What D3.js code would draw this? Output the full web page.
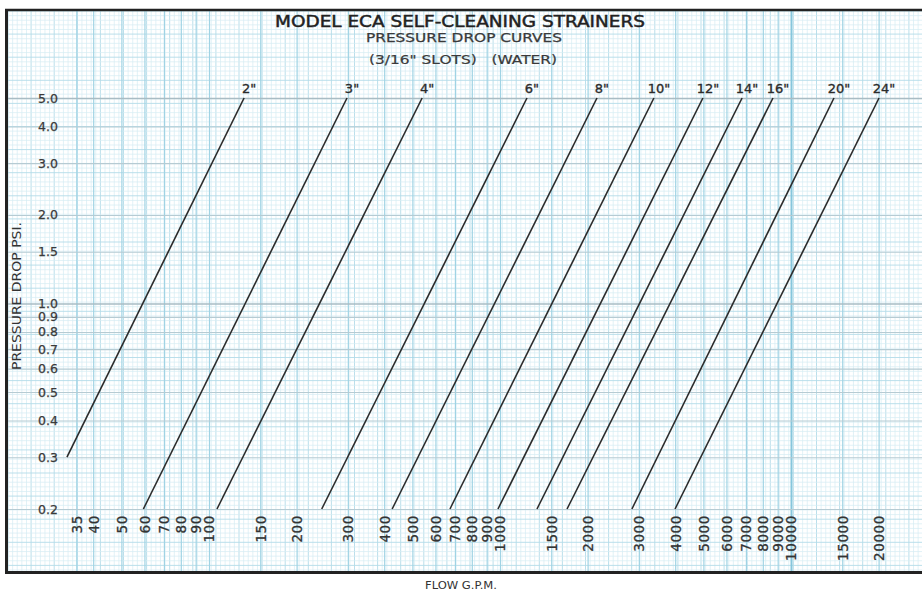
<!DOCTYPE html>
<html><head><meta charset="utf-8">
<script src="https://cdn.jsdelivr.net/npm/d3@7"></script>
<style>body{margin:0;background:#fff}svg{display:block}text{white-space:pre}</style>
</head><body>
<svg id="c" width="922" height="591"></svg>
<script>
// ---- data ----
const sizes = ['2"','3"','4"','6"','8"','10"','12"','14"','16"','20"','24"'];
const flowAtTop = [132, 298, 540, 1238, 2154, 3380, 4980, 6790, 8670, 14050, 20070]; // GPM at 5.0 psi
const topPressure = [5, 5, 5, 5, 5, 5, 5, 5, 5, 5, 5];
const flowAtLow = [32.5, 59.5, 106.5, 244, 426, 673, 984, 1340, 1700, 2840, 3995];
const lowPressure = [0.3, 0.2, 0.2, 0.2, 0.2, 0.2, 0.2, 0.2, 0.2, 0.2, 0.2];
const xTicks = [35,40,50,60,70,80,90,100,150,200,300,400,500,600,700,800,900,1000,1500,2000,3000,4000,5000,6000,7000,8000,9000,10000,15000,20000];
const yTicks = [0.2,0.3,0.4,0.5,0.6,0.7,0.8,0.9,1.0,1.5,2.0,3.0,4.0,5.0];
const yTickLabels = ["0.2","0.3","0.4","0.5","0.6","0.7","0.8","0.9","1.0","1.5","2.0","3.0","4.0","5.0"];
const titleLines = ["MODEL ECA SELF-CLEANING STRAINERS","PRESSURE DROP CURVES","(3/16\" SLOTS)   (WATER)"];
const xTitle = "FLOW G.P.M.";
const yTitle = "PRESSURE DROP PSI.";

// ---- layout ----
const svg = d3.select("#c");
const frame = {left: 8, top: 11, right: 922, bottom: 571};
const x = d3.scaleLog().domain([100, 10000]).range([209, 791]);
const y = d3.scaleLog().domain([0.2, 5]).range([509, 98]);
const font = "'DejaVu Sans', 'Liberation Sans', sans-serif";

// graph paper fine grid
const paper = svg.append("g");
const step = 4.62;
d3.range(frame.left, frame.right, step).forEach((v, i) => {
  paper.append("line").attr("x1", v).attr("x2", v).attr("y1", frame.top).attr("y2", frame.bottom)
    .attr("stroke", i % 5 === 0 ? "#b3dbe9" : "#d6ecf4").attr("stroke-width", i % 5 === 0 ? 0.9 : 0.7);
});
d3.range(frame.top, frame.bottom, step).forEach((v, i) => {
  paper.append("line").attr("y1", v).attr("y2", v).attr("x1", frame.left).attr("x2", frame.right)
    .attr("stroke", i % 5 === 0 ? "#b3dbe9" : "#d6ecf4").attr("stroke-width", i % 5 === 0 ? 0.9 : 0.7);
});

// tick grid lines
const gx = svg.append("g").attr("transform", `translate(0,${frame.bottom})`)
  .call(d3.axisBottom(x).tickValues(xTicks).tickSize(-(frame.bottom - frame.top)).tickFormat(""));
gx.select(".domain").remove();
gx.selectAll(".tick line").attr("stroke", d => d === 10000 ? "#86c6dc" : "#a0d3e4").attr("stroke-width", d => d === 10000 ? 2 : 1.2);

const gy = svg.append("g").attr("transform", `translate(${frame.right},0)`)
  .call(d3.axisLeft(y).tickValues(yTicks).tickSize(frame.right - frame.left).tickFormat(""));
gy.select(".domain").remove();
gy.selectAll(".tick line").attr("stroke", d => (d === 5 || d === 1) ? "#a9bcc4" : "#b6cbd3").attr("stroke-width", d => (d === 5 || d === 1) ? 1.6 : 1.2);

// frame
svg.append("line").attr("x1", 5).attr("x2", 922).attr("y1", 10).attr("y2", 10).attr("stroke", "#222").attr("stroke-width", 2.5);
svg.append("line").attr("x1", 6.5).attr("x2", 6.5).attr("y1", 9).attr("y2", 574).attr("stroke", "#222").attr("stroke-width", 3);
svg.append("line").attr("x1", 5).attr("x2", 922).attr("y1", 572.5).attr("y2", 572.5).attr("stroke", "#222").attr("stroke-width", 3);

// y axis labels
const ay = svg.append("g").attr("transform", "translate(60,0)")
  .call(d3.axisLeft(y).tickValues(yTicks).tickSize(0).tickPadding(2).tickFormat((d, i) => yTickLabels[i]));
ay.select(".domain").remove();
ay.selectAll("text").attr("font-family", font).attr("font-size", 12.5).attr("fill", "#3a3a3a")
  .attr("stroke", "#3a3a3a").attr("stroke-width", 0.25);

// x axis labels (rotated)
const ax = svg.append("g").attr("transform", "translate(0,513)")
  .call(d3.axisBottom(x).tickValues(xTicks).tickSize(0).tickFormat(d => String(d)));
ax.select(".domain").remove();
ax.selectAll("text").attr("transform", "rotate(-90)").attr("text-anchor", "end")
  .attr("x", -2).attr("y", 0).attr("dy", "0.36em")
  .attr("font-family", font).attr("font-size", 13.5).attr("letter-spacing", 0.6).attr("fill", "#333")
  .attr("stroke", "#333").attr("stroke-width", 0.3);

// curves
const line = d3.line().x(d => x(d[0])).y(d => y(d[1]));
const curves = sizes.map((s, i) => ({size: s, pts: [[flowAtLow[i], lowPressure[i]], [flowAtTop[i], topPressure[i]]]}));
svg.append("g").selectAll("path").data(curves).join("path")
  .attr("d", d => line(d.pts)).attr("fill", "none").attr("stroke", "#2b2b2b").attr("stroke-width", 1.6);
svg.append("g").selectAll("text").data(curves).join("text")
  .attr("x", d => x(d.pts[1][0]) + 5).attr("y", d => y(d.pts[1][1]) - 5)
  .attr("text-anchor", "middle").attr("font-family", font).attr("font-size", 13).attr("fill", "#2b2b2b")
  .attr("stroke", "#2b2b2b").attr("stroke-width", 0.35)
  .text(d => d.size);

// titles
svg.append("text").attr("x", 460).attr("y", 27).attr("text-anchor", "middle")
  .attr("font-family", font).attr("font-size", 15).attr("fill", "#222").attr("stroke", "#222").attr("stroke-width", 0.45)
  .attr("textLength", 370).attr("lengthAdjust", "spacingAndGlyphs").text(titleLines[0]);
svg.append("text").attr("x", 464).attr("y", 42).attr("text-anchor", "middle")
  .attr("font-family", font).attr("font-size", 12).attr("fill", "#3a3a3a").attr("stroke", "#3a3a3a").attr("stroke-width", 0.25)
  .attr("textLength", 196).attr("lengthAdjust", "spacingAndGlyphs").text(titleLines[1]);
svg.append("text").attr("x", 463).attr("y", 64).attr("text-anchor", "middle")
  .attr("font-family", font).attr("font-size", 12.5).attr("fill", "#3a3a3a").attr("stroke", "#3a3a3a").attr("stroke-width", 0.2)
  .attr("textLength", 188).attr("lengthAdjust", "spacingAndGlyphs").text(titleLines[2]);

// axis titles
svg.append("text").attr("x", 461).attr("y", 589).attr("text-anchor", "middle")
  .attr("font-family", font).attr("font-size", 11).attr("fill", "#333")
  .attr("textLength", 72).attr("lengthAdjust", "spacingAndGlyphs").text(xTitle);
svg.append("text").attr("transform", "translate(21,296) rotate(-90)").attr("text-anchor", "middle")
  .attr("font-family", font).attr("font-size", 12).attr("fill", "#333")
  .attr("textLength", 148).attr("lengthAdjust", "spacingAndGlyphs").text(yTitle);
</script>
</body></html>
